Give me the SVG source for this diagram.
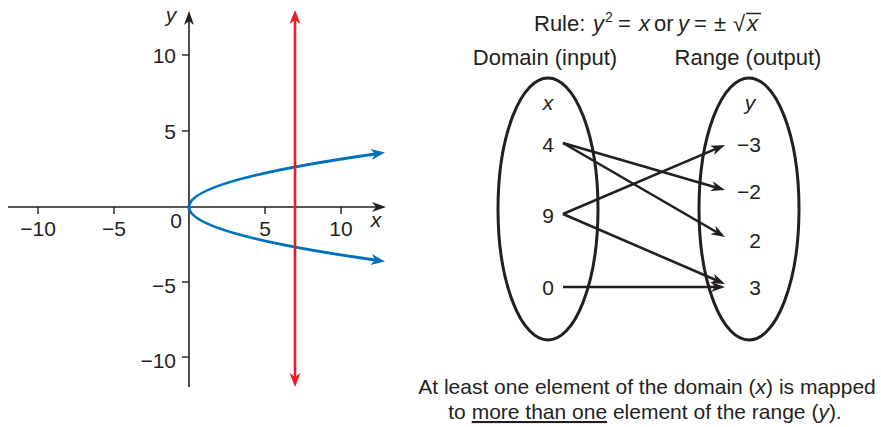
<svg xmlns="http://www.w3.org/2000/svg" width="881" height="427" viewBox="0 0 881 427">
<style>
text{font-family:"Liberation Sans",Arial,sans-serif;fill:#231F20}
.t{font-size:22px}
.n{font-size:21px}
.i{font-style:italic}
.ax{stroke:#231F20;stroke-width:1.6;fill:none}
.tk{stroke:#231F20;stroke-width:1.4}
.ell{fill:none;stroke:#231F20;stroke-width:3}
.map{stroke:#231F20;stroke-width:2.6;fill:none;marker-end:url(#ak)}
</style>
<defs>
<marker id="ak" viewBox="-5 -6 16 12" markerWidth="16" markerHeight="12" refX="0" refY="0" orient="auto" markerUnits="userSpaceOnUse">
<path d="M-4,-5 L10,0 L-4,5 L0,0 Z" fill="#231F20"/>
</marker>
<marker id="aks" viewBox="-5 -6 16 12" markerWidth="16" markerHeight="12" refX="0" refY="0" orient="auto" markerUnits="userSpaceOnUse">
<path d="M-4,-5 L10,0 L-4,5 L0,0 Z" fill="#231F20"/>
</marker>
<marker id="ar" viewBox="-5 -6 16 12" markerWidth="16" markerHeight="12" refX="0" refY="0" orient="auto-start-reverse" markerUnits="userSpaceOnUse">
<path d="M-4,-5.5 L10,0 L-4,5.5 L0,0 Z" fill="#ED1C24"/>
</marker>
<marker id="ab" viewBox="-5 -6 16 12" markerWidth="16" markerHeight="12" refX="0" refY="0" orient="auto" markerUnits="userSpaceOnUse">
<path d="M-4,-5.5 L10,0 L-4,5.5 L0,0 Z" fill="#0072BC"/>
</marker>
</defs>

<g id="graph">
<line class="ax" x1="8" y1="207" x2="376" y2="207" marker-end="url(#aks)"/>
<line class="ax" x1="189" y1="387" x2="189" y2="21" marker-end="url(#aks)"/>
<g id="ticks">
<line class="tk" x1="38" y1="207" x2="38" y2="214"/>
<line class="tk" x1="114" y1="207" x2="114" y2="214"/>
<line class="tk" x1="265" y1="207" x2="265" y2="214"/>
<line class="tk" x1="341" y1="207" x2="341" y2="214"/>
<line class="tk" x1="182" y1="55" x2="189" y2="55"/>
<line class="tk" x1="182" y1="131" x2="189" y2="131"/>
<line class="tk" x1="182" y1="282" x2="189" y2="282"/>
<line class="tk" x1="182" y1="357" x2="189" y2="357"/>
</g>
<g id="ticklabels" class="n">
<text x="38" y="236" text-anchor="middle">−10</text>
<text x="114" y="236" text-anchor="middle">−5</text>
<text x="176" y="228" text-anchor="middle">0</text>
<text x="265" y="236" text-anchor="middle">5</text>
<text x="341" y="236" text-anchor="middle">10</text>
<text x="176" y="63" text-anchor="end">10</text>
<text x="176" y="139" text-anchor="end">5</text>
<text x="176" y="293" text-anchor="end">−5</text>
<text x="176" y="368" text-anchor="end">−10</text>
<text class="i" x="376" y="227" text-anchor="middle">x</text>
<text class="i" x="171" y="22" text-anchor="middle">y</text>
</g>
<path d="M189,207 Q189,180.5 375.1,154" fill="none" stroke="#0072BC" stroke-width="3" marker-end="url(#ab)"/>
<path d="M189,207 Q189,233.5 375.1,260" fill="none" stroke="#0072BC" stroke-width="3" marker-end="url(#ab)"/>
<line x1="295" y1="20" x2="295" y2="377" stroke="#ED1C24" stroke-width="2.6" marker-start="url(#ar)" marker-end="url(#ar)"/>
</g>

<g id="rule">
<text class="t" y="31"><tspan x="534">Rule:</tspan><tspan class="i" x="593">y</tspan><tspan x="605" y="22" font-size="14">2</tspan><tspan x="618" y="31">=</tspan><tspan class="i" x="639">x</tspan><tspan x="654">or</tspan><tspan class="i" x="678">y</tspan><tspan x="694">=</tspan><tspan x="714">±</tspan><tspan x="733">√</tspan><tspan class="i" x="747">x</tspan></text>
<line x1="746" y1="13.5" x2="761" y2="13.5" stroke="#231F20" stroke-width="1.5"/>
</g>

<g id="domain">
<text class="t" x="545" y="65" text-anchor="middle">Domain (input)</text>
<ellipse class="ell" cx="548" cy="209" rx="50" ry="131"/>
<text class="n i" x="548" y="110" text-anchor="middle">x</text>
<text class="n" x="548" y="152" text-anchor="middle">4</text>
<text class="n" x="548" y="223" text-anchor="middle">9</text>
<text class="n" x="548" y="295" text-anchor="middle">0</text>
</g>

<g id="range">
<text class="t" x="748" y="65" text-anchor="middle">Range (output)</text>
<ellipse class="ell" cx="749" cy="209" rx="50" ry="131"/>
<text class="n i" x="750" y="110" text-anchor="middle">y</text>
<text class="n" x="761" y="152" text-anchor="end">−3</text>
<text class="n" x="761" y="199" text-anchor="end">−2</text>
<text class="n" x="761" y="248" text-anchor="end">2</text>
<text class="n" x="761" y="295" text-anchor="end">3</text>
</g>

<g id="connectors">
<line class="map" x1="563" y1="143" x2="715.4" y2="187.2"/>
<line class="map" x1="563" y1="143" x2="716.4" y2="232"/>
<line class="map" x1="563" y1="214" x2="715.8" y2="148.9"/>
<line class="map" x1="563" y1="214" x2="715.8" y2="280"/>
<line class="map" x1="563" y1="287" x2="715" y2="287"/>
</g>

<g id="caption" class="n">
<text x="647" y="394" text-anchor="middle">At least one element of the domain (<tspan class="i">x</tspan>) is mapped</text>
<text x="645" y="419" text-anchor="middle">to <tspan text-decoration="underline">more than one</tspan> element of the range (<tspan class="i">y</tspan>).</text>
</g>
</svg>
